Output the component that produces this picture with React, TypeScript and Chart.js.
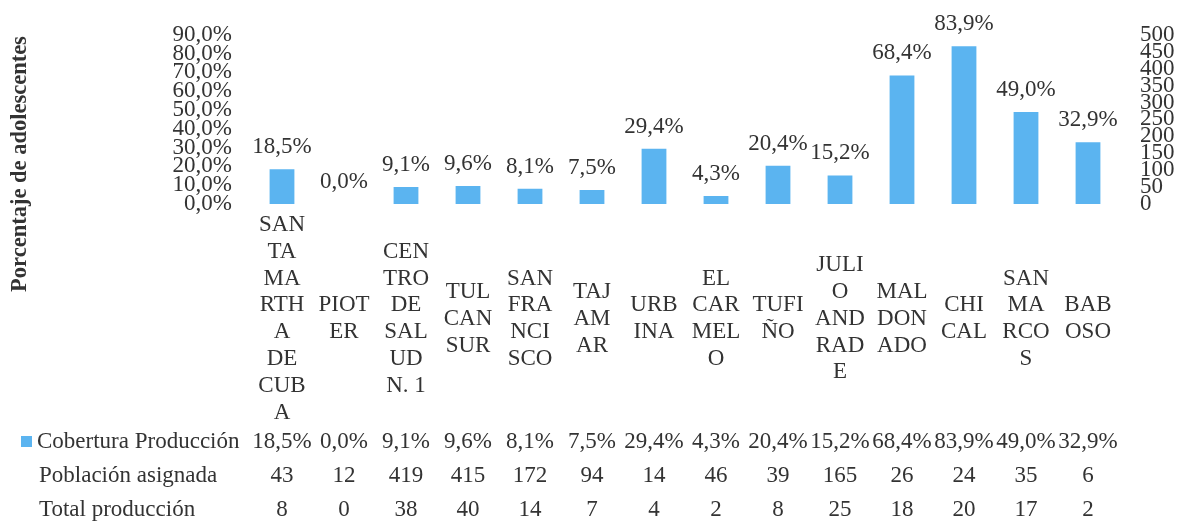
import React, { useEffect, useRef } from 'react';
import { Chart, registerables } from 'chart.js';

Chart.register(...registerables);

const categories: string[][] = [
  ['SAN', 'TA', 'MA', 'RTH', 'A', 'DE', 'CUB', 'A'],
  ['PIOT', 'ER'],
  ['CEN', 'TRO', 'DE', 'SAL', 'UD', 'N. 1'],
  ['TUL', 'CAN', 'SUR'],
  ['SAN', 'FRA', 'NCI', 'SCO'],
  ['TAJ', 'AM', 'AR'],
  ['URB', 'INA'],
  ['EL', 'CAR', 'MEL', 'O'],
  ['TUFI', 'ÑO'],
  ['JULI', 'O', 'AND', 'RAD', 'E'],
  ['MAL', 'DON', 'ADO'],
  ['CHI', 'CAL'],
  ['SAN', 'MA', 'RCO', 'S'],
  ['BAB', 'OSO'],
];

const cobertura = [18.5, 0.0, 9.1, 9.6, 8.1, 7.5, 29.4, 4.3, 20.4, 15.2, 68.4, 83.9, 49.0, 32.9];
const poblacionAsignada = [43, 12, 419, 415, 172, 94, 14, 46, 39, 165, 26, 24, 35, 6];
const totalProduccion = [8, 0, 38, 40, 14, 7, 4, 2, 8, 25, 18, 20, 17, 2];

const seriesName = 'Cobertura Producción';
const rowLabels = ['Población asignada', 'Total producción'];
const yTitle = 'Porcentaje de adolescentes';

const leftMax = 90;
const leftStep = 10;
const rightMax = 500;
const rightStep = 50;

const FONT = "'Liberation Serif', 'Times New Roman', serif";
const TEXT = '#333333';
const BAR = '#5BB4F0';
const FS = 23;

const pct = (v: number) => v.toFixed(1).replace('.', ',') + '%';

const extrasPlugin = {
  id: 'extras',
  afterDraw(chart: any) {
    const ctx = chart.ctx;
    const xs = chart.scales.x;
    const meta = chart.getDatasetMeta(0);
    ctx.save();
    ctx.fillStyle = TEXT;
    ctx.font = `${FS}px ${FONT}`;
    ctx.textAlign = 'center';
    ctx.textBaseline = 'middle';
    // value labels above bars
    meta.data.forEach((el: any, i: number) => {
      ctx.fillText(pct(cobertura[i]), el.x, el.y - 22);
    });
    // data table
    const rowY = [442, 476, 510];
    const rows: string[][] = [
      cobertura.map(pct),
      poblacionAsignada.map(String),
      totalProduccion.map(String),
    ];
    rows.forEach((r, ri) => {
      r.forEach((t, i) => {
        ctx.fillText(t, xs.getPixelForValue(i), rowY[ri]);
      });
    });
    ctx.textAlign = 'left';
    ctx.fillStyle = BAR;
    ctx.fillRect(21, 436, 11, 11);
    ctx.fillStyle = TEXT;
    ctx.fillText(seriesName, 37, rowY[0]);
    ctx.fillText(rowLabels[0], 39, rowY[1]);
    ctx.fillText(rowLabels[1], 39, rowY[2]);
    // y axis title
    ctx.translate(20, 164);
    ctx.rotate(-Math.PI / 2);
    ctx.textAlign = 'center';
    ctx.font = `bold 22.5px ${FONT}`;
    ctx.fillText(yTitle, 0, 0);
    ctx.restore();
  },
};

export default function App() {
  const ref = useRef<HTMLCanvasElement>(null);
  useEffect(() => {
    if (!ref.current) return;
    const chart = new Chart(ref.current, {
      type: 'bar',
      data: {
        labels: categories,
        datasets: [
          {
            label: seriesName,
            data: cobertura,
            backgroundColor: BAR,
            borderWidth: 0,
            barPercentage: 0.8,
            categoryPercentage: 0.5,
            yAxisID: 'y',
          },
        ],
      },
      options: {
        animation: false,
        responsive: true,
        maintainAspectRatio: false,
        layout: { padding: { top: 31, bottom: 105, left: 0, right: 0 } },
        plugins: {
          legend: { display: false },
          tooltip: { enabled: false },
          title: { display: false },
        },
        scales: {
          x: {
            grid: { display: false, drawTicks: false },
            border: { display: false },
            ticks: {
              autoSkip: false,
              maxRotation: 0,
              minRotation: 0,
              crossAlign: 'center',
              padding: 21,
              color: TEXT,
              font: { family: FONT, size: FS, lineHeight: 1.165 },
            },
            afterFit: (s: any) => {
              s.height = 220;
            },
          },
          y: {
            position: 'left',
            min: 0,
            max: leftMax,
            grid: { display: false, drawTicks: false },
            border: { display: false },
            ticks: {
              stepSize: leftStep,
              autoSkip: false,
              padding: 19,
              color: TEXT,
              font: { family: FONT, size: FS },
              callback: (v: any) => pct(Number(v)),
            },
            afterFit: (s: any) => {
              s.width = 251;
            },
          },
          y1: {
            position: 'right',
            min: 0,
            max: rightMax,
            grid: { display: false, drawTicks: false },
            border: { display: false },
            ticks: {
              stepSize: rightStep,
              autoSkip: false,
              padding: 21,
              color: TEXT,
              font: { family: FONT, size: FS },
            },
            afterFit: (s: any) => {
              s.width = 61;
            },
          },
        },
      },
      plugins: [extrasPlugin],
    } as any);
    return () => chart.destroy();
  }, []);
  return (
    <div style={{ position: 'fixed', left: 0, top: 0, width: 1180, height: 529, background: '#fff' }}>
      <canvas ref={ref} />
    </div>
  );
}
